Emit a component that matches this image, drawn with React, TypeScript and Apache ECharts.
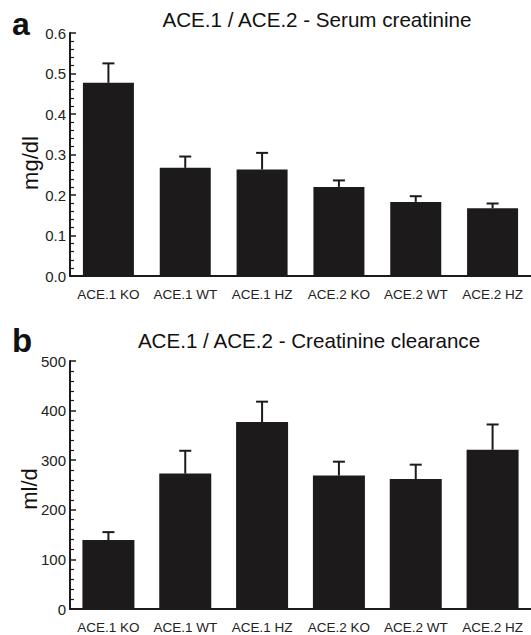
import React, { useEffect, useRef } from "react";
import * as echarts from "echarts";

const categories = ["ACE.1 KO", "ACE.1 WT", "ACE.1 HZ", "ACE.2 KO", "ACE.2 WT", "ACE.2 HZ"];
const creatinineMean = [0.477, 0.267, 0.263, 0.22, 0.183, 0.167];
const creatinineErr = [0.048, 0.028, 0.041, 0.016, 0.014, 0.012];
const clearanceMean = [139, 273, 377, 269, 262, 321];
const clearanceErr = [16, 46, 41, 28, 29, 51];
const creatinineTicks = [0, 0.1, 0.2, 0.3, 0.4, 0.5, 0.6];
const clearanceTicks = [0, 100, 200, 300, 400, 500];

const FONT = "Liberation Sans, Arial, Helvetica, sans-serif";
const INK = "#1d1a1b";

function errorBarSeries(xAxisIndex: number, yAxisIndex: number, mean: number[], err: number[]) {
  return {
    type: "custom",
    xAxisIndex,
    yAxisIndex,
    z: 5,
    silent: true,
    encode: { x: 0, y: [1, 2] },
    data: mean.map((m, i) => [i, m, m + err[i]]),
    renderItem: (params: any, api: any) => {
      const x = api.value(0);
      const lo = api.coord([x, api.value(1)]);
      const hi = api.coord([x, api.value(2)]);
      const st = { stroke: INK, lineWidth: 2 };
      return {
        type: "group",
        children: [
          { type: "line", shape: { x1: lo[0], y1: lo[1], x2: hi[0], y2: hi[1] }, style: st },
          { type: "line", shape: { x1: hi[0] - 6, y1: hi[1], x2: hi[0] + 6, y2: hi[1] }, style: st },
        ],
      };
    },
  };
}

function yAxisBase(gridIndex: number, max: number, interval: number, fmt: (v: number) => string) {
  return {
    type: "value",
    gridIndex,
    min: 0,
    max,
    interval,
    axisLine: { show: true, lineStyle: { color: INK, width: 2 } },
    axisTick: { show: true, inside: true, length: 6, lineStyle: { color: INK, width: 1.5 } },
    minorTick: { show: true, splitNumber: 5, length: 4, lineStyle: { color: INK, width: 1.2 } },
    splitLine: { show: false },
    axisLabel: { color: "#222", fontSize: 15, fontFamily: FONT, margin: 4, formatter: fmt },
  };
}

function xAxisBase(gridIndex: number) {
  return {
    type: "category",
    gridIndex,
    data: categories,
    axisLine: { show: true, lineStyle: { color: INK, width: 2 } },
    axisTick: { show: false },
    axisLabel: { color: "#222", fontSize: 13.5, fontFamily: FONT, margin: 11, interval: 0 },
  };
}

export default function App() {
  const ref = useRef<HTMLDivElement>(null);
  useEffect(() => {
    if (!ref.current) return;
    const chart = echarts.init(ref.current, undefined, { renderer: "svg" });
    chart.setOption({
      animation: false,
      backgroundColor: "#ffffff",
      grid: [
        { left: 70, top: 33, width: 462, height: 243 },
        { left: 70, top: 361, width: 466, height: 248 },
      ],
      xAxis: [xAxisBase(0), xAxisBase(1)],
      yAxis: [
        yAxisBase(0, creatinineTicks[creatinineTicks.length - 1], 0.1, (v: number) => v.toFixed(1)),
        yAxisBase(1, clearanceTicks[clearanceTicks.length - 1], 100, (v: number) => String(Math.round(v))),
      ],
      series: [
        {
          type: "bar",
          xAxisIndex: 0,
          yAxisIndex: 0,
          data: creatinineMean,
          barWidth: 51,
          itemStyle: { color: INK },
        },
        errorBarSeries(0, 0, creatinineMean, creatinineErr),
        {
          type: "bar",
          xAxisIndex: 1,
          yAxisIndex: 1,
          data: clearanceMean,
          barWidth: 52,
          itemStyle: { color: INK },
        },
        errorBarSeries(1, 1, clearanceMean, clearanceErr),
      ],
      graphic: [
        {
          type: "text",
          x: 12,
          y: 8,
          style: { text: "a", font: `bold 32px ${FONT}`, fill: "#111" },
        },
        {
          type: "text",
          x: 12,
          y: 324,
          style: { text: "b", font: `bold 33px ${FONT}`, fill: "#111" },
        },
        {
          type: "text",
          x: 317,
          y: 19.5,
          style: {
            text: "ACE.1 / ACE.2 - Serum creatinine",
            font: `20.6px ${FONT}`,
            fill: "#111",
            textAlign: "center",
            textVerticalAlign: "middle",
          },
        },
        {
          type: "text",
          x: 309,
          y: 340,
          style: {
            text: "ACE.1 / ACE.2 - Creatinine clearance",
            font: `20.6px ${FONT}`,
            fill: "#111",
            textAlign: "center",
            textVerticalAlign: "middle",
          },
        },
        {
          type: "text",
          x: 30,
          y: 163,
          rotation: Math.PI / 2,
          style: {
            text: "mg/dl",
            font: `22px ${FONT}`,
            fill: "#111",
            textAlign: "center",
            textVerticalAlign: "middle",
          },
        },
        {
          type: "text",
          x: 29,
          y: 489,
          rotation: Math.PI / 2,
          style: {
            text: "ml/d",
            font: `22px ${FONT}`,
            fill: "#111",
            textAlign: "center",
            textVerticalAlign: "middle",
          },
        },
      ],
    });
    return () => chart.dispose();
  }, []);
  return (
    <div
      ref={ref}
      style={{ position: "fixed", left: 0, top: 0, width: 531, height: 635, background: "#fff" }}
    />
  );
}
